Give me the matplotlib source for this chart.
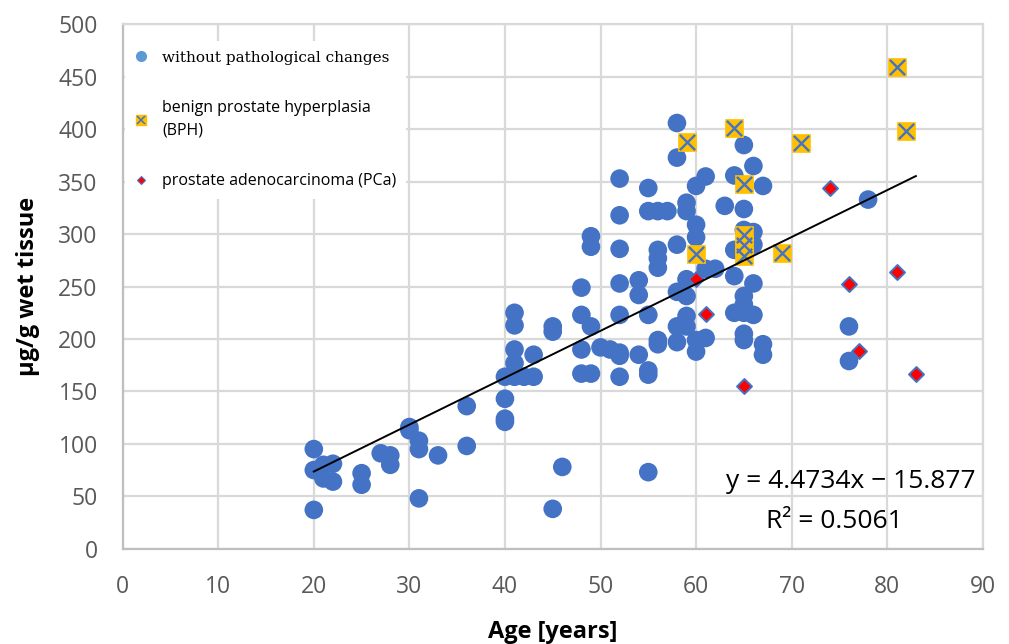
import numpy as np
import matplotlib
matplotlib.use("Agg")
import matplotlib.pyplot as plt
from matplotlib.lines import Line2D

# ---- data ----
# without pathological changes
normal_age = [20, 20, 20, 21, 21, 22, 22, 25, 25, 27, 28, 28, 30, 30, 31, 31, 31, 33,
              36, 36, 40, 40, 40, 40, 41, 41, 41, 41, 41, 42, 43, 43, 45, 45, 45, 46,
              48, 48, 48, 48, 49, 49, 49, 49, 50, 51,
              52, 52, 52, 52, 52, 52, 52, 52, 54, 54, 54,
              55, 55, 55, 55, 55, 55, 56, 56, 56, 56, 56, 56, 57,
              58, 58, 58, 58, 58, 58, 59, 59, 59, 59, 59, 59,
              60, 60, 60, 60, 60, 61, 61, 61, 62, 63, 64, 64, 64, 64,
              65, 65, 65, 65, 65, 65, 65, 65, 66, 66, 66, 66, 66, 67, 67, 67,
              76, 76, 78]
normal_val = [95, 75, 37, 80, 67, 81, 64, 72, 61, 91, 89, 80, 116, 113, 103, 95, 48, 89,
              136, 98, 164, 143, 124, 121, 225, 213, 190, 177, 164, 164, 185, 164, 212, 207, 38, 78,
              249, 223, 190, 167, 298, 288, 212, 167, 192, 190,
              353, 318, 286, 253, 223, 187, 184, 164, 256, 242, 185,
              344, 322, 223, 170, 166, 73, 322, 285, 277, 268, 199, 195, 322,
              406, 373, 290, 245, 212, 197, 330, 322, 257, 241, 222, 212,
              346, 309, 297, 199, 188, 355, 267, 201, 267, 327, 356, 285, 260, 225,
              385, 324, 304, 241, 233, 225, 205, 199, 365, 302, 290, 253, 223, 346, 195, 185,
              212, 179, 333]

# benign prostate hyperplasia (BPH)
bph_age = [59, 60, 64, 65, 65, 65, 65, 69, 71, 81, 82]
bph_val = [388, 281, 401, 348, 299, 290, 279, 282, 387, 459, 398]

# prostate adenocarcinoma (PCa)
pca_age = [60, 61, 65, 74, 76, 77, 81, 83]
pca_val = [257, 224, 155, 344, 252, 189, 264, 167]

# linear trend (as printed on the chart)
slope, intercept = 4.4734, -15.877
r2 = 0.5061
trend_range = [20, 83]

blue = "#4472C4"
gold = "#FFC000"
red = "#FF0000"
grid_c = "#D9D9D9"
tick_c = "#595959"

fig = plt.figure(figsize=(10.09, 6.44), dpi=100)
ax = fig.add_axes([0.1216, 0.148, 0.8524, 0.814])

ax.scatter(normal_age, normal_val, s=180, color=blue, edgecolors="none", zorder=3)
ax.scatter(bph_age, bph_val, s=150, marker="s", color=gold, edgecolors=gold,
           linewidths=0.5, zorder=4)
ax.scatter(bph_age, bph_val, s=120, marker="x", color=blue, linewidths=1.7, zorder=5)
ax.scatter(pca_age, pca_val, s=58, marker="D", color=red, edgecolors=blue,
           linewidths=1.4, zorder=6)

tx = np.array(trend_range, dtype=float)
ax.plot(tx, slope * tx + intercept, color="black", lw=1.4, zorder=7)

ax.text(89.3, 64, "y = 4.4734x \u2212 15.877", ha="right", va="center",
        fontsize=19, family="Open Sans", color="black", zorder=8)
ax.text(74.5, 26, "R\u00b2 = %.4f" % r2, ha="center", va="center",
        fontsize=19, family="Open Sans", color="black", zorder=8)

ax.set_xlim(0, 90)
ax.set_ylim(0, 500)
ax.set_xticks(np.arange(0, 91, 10))
ax.set_yticks(np.arange(0, 501, 50))
ax.grid(True, color=grid_c, lw=1.6, zorder=0)
ax.set_axisbelow(True)
for side in ["top", "right"]:
    ax.spines[side].set_color(grid_c)
    ax.spines[side].set_linewidth(1.6)
for side in ["left", "bottom"]:
    ax.spines[side].set_color("#BFBFBF")
    ax.spines[side].set_linewidth(1.6)
ax.tick_params(axis="y", length=0, pad=18, labelsize=16.5, labelcolor=tick_c)
ax.tick_params(axis="x", length=0, pad=19, labelsize=16.5, labelcolor=tick_c)
for lab in ax.get_xticklabels() + ax.get_yticklabels():
    lab.set_family("Open Sans")

ax.set_xlabel("Age [years]", fontsize=17, fontweight="bold", family="Open Sans",
              labelpad=15)
ax.set_ylabel("\u00b5g/g wet tissue", fontsize=17, fontweight="bold", family="Open Sans",
              labelpad=13)

handles = [
    Line2D([], [], marker="o", ls="none", color="#5B9BD5", markersize=7),
    (Line2D([], [], marker="s", ls="none", color=gold, markersize=7),
     Line2D([], [], marker="x", ls="none", color=blue, markersize=5.5, mew=1.1)),
    Line2D([], [], marker="D", ls="none", color=red, markeredgecolor=blue,
           markersize=4.5, mew=0.8),
]
labels = ["without pathological changes", "benign prostate hyperplasia\n(BPH)",
          "prostate adenocarcinoma (PCa)"]
leg = ax.legend(handles, labels, loc="upper left", bbox_to_anchor=(0.003, 0.968),
                frameon=True, fancybox=False, edgecolor="none", facecolor="white",
                framealpha=1, labelspacing=2.2, handlelength=0.8, handletextpad=0.9,
                borderpad=0.6, borderaxespad=0, prop={"family": "Open Sans", "size": 11.5})
leg.set_zorder(9)
texts = leg.get_texts()
texts[0].set_family("DejaVu Serif")
texts[0].set_fontsize(11)
texts[1].set_linespacing(1.5)

fig.savefig("out.png", dpi=100)
